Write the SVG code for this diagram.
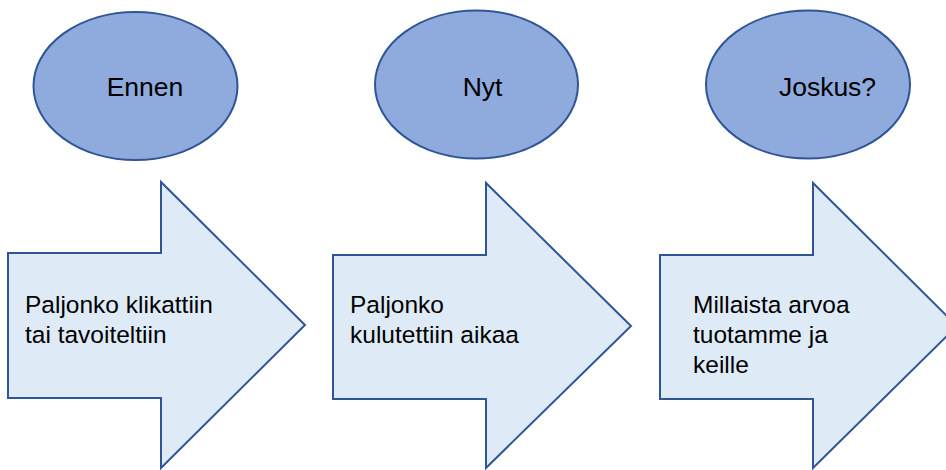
<svg xmlns="http://www.w3.org/2000/svg" width="946" height="470" viewBox="0 0 946 470">
<style>
.oval{fill:#8FAADC;stroke:#2F5597;stroke-width:2}
.arr{fill:#DEEBF7;stroke:#2F5597;stroke-width:2;stroke-linejoin:miter}
.t1{font-family:"Liberation Sans",Arial,sans-serif;font-size:26.5px;fill:#000}
.t2{font-family:"Liberation Sans",Arial,sans-serif;font-size:24.5px;fill:#000}
</style>
<rect width="946" height="470" fill="#fff"/>
<g id="ennen">
<ellipse class="oval" cx="135.5" cy="86" rx="102" ry="74"/>
<text class="t1" x="145" y="96" text-anchor="middle">Ennen</text>
</g>
<g id="nyt">
<ellipse class="oval" cx="476.5" cy="84.5" rx="101.5" ry="74"/>
<text class="t1" x="482.5" y="96" text-anchor="middle">Nyt</text>
</g>
<g id="joskus">
<ellipse class="oval" cx="808" cy="84.5" rx="102" ry="74"/>
<text class="t1" x="827.5" y="96" text-anchor="middle">Joskus?</text>
</g>
<g id="arrow1">
<polygon class="arr" points="8,253 161,253 161,182 305,325 161,468 161,398 8,398"/>
<text class="t2" x="25" y="313">Paljonko klikattiin</text>
<text class="t2" x="25" y="343">tai tavoiteltiin</text>
</g>
<g id="arrow2">
<polygon class="arr" points="333,255 486,255 486,183 631,326 486,468 486,399 333,399"/>
<text class="t2" x="350" y="313">Paljonko</text>
<text class="t2" x="350" y="343">kulutettiin aikaa</text>
</g>
<g id="arrow3">
<polygon class="arr" points="660,255 813,255 813,183 957,326 813,468 813,399 660,399"/>
<text class="t2" x="693" y="313">Millaista arvoa</text>
<text class="t2" x="693" y="343">tuotamme ja</text>
<text class="t2" x="693" y="373">keille</text>
</g>
<g id="connectors"></g>
</svg>
